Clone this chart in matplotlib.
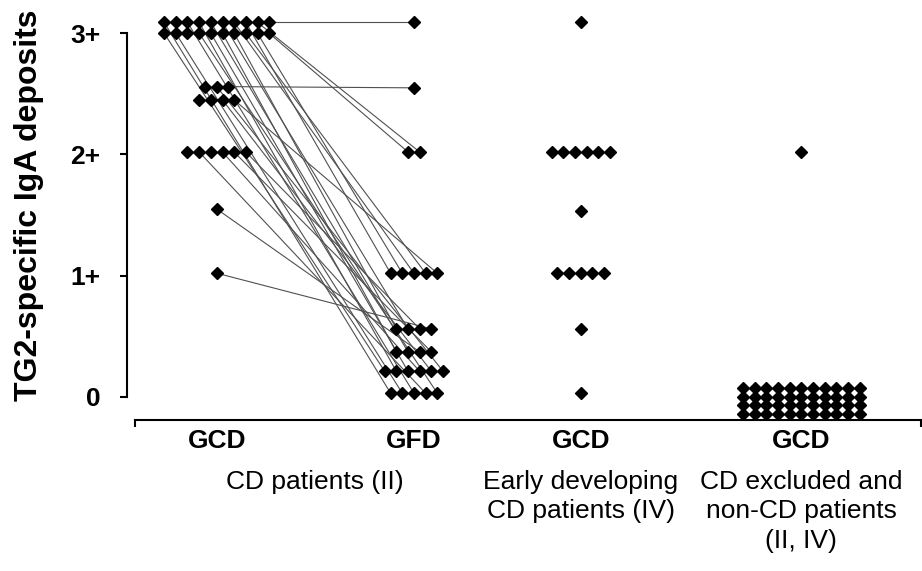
import matplotlib
matplotlib.use("Agg")
import matplotlib.pyplot as plt

plt.rcParams['font.family'] = ['Liberation Sans', 'DejaVu Sans']

# score levels (slightly offset rows as in the original) and how many patients sit on each
cd_gcd_levels = [3.09, 3.0, 2.56, 2.45, 2.02, 1.55, 1.02]
cd_gcd_counts = [10, 10, 3, 4, 6, 1, 1]
cd_gfd_levels = [3.09, 2.55, 2.02, 1.02, 0.56, 0.37, 0.21, 0.03]
cd_gfd_counts = [1, 1, 2, 5, 4, 4, 6, 5]
early_levels = [3.09, 2.02, 1.53, 1.02, 0.56, 0.03]
early_counts = [1, 6, 1, 5, 1, 1]
excluded_levels = [2.02, 0.075, 0.0, -0.07, -0.14]
excluded_counts = [1, 11, 11, 11, 11]

# paired biopsies: (index in GCD list, index in GFD list)
pairs = [(9, 0), (22, 1), (19, 2), (8, 3), (7, 4), (18, 5), (6, 6), (17, 7),
         (26, 8), (16, 9), (5, 10), (32, 11), (34, 12), (15, 13), (4, 14),
         (33, 15), (31, 16), (10, 17), (3, 18), (14, 19), (30, 20), (25, 21),
         (21, 22), (0, 23), (11, 24), (2, 25), (28, 26), (13, 27)]

group_labels = ['GCD', 'GFD', 'GCD', 'GCD']
group_pos = [7.0, 23.9, 38.2, 57.1]
sub_labels = ['CD patients (II)', 'Early developing\nCD patients (IV)',
              'CD excluded and\nnon-CD patients\n(II, IV)']
sub_pos = [15.45, 38.2, 57.1]
ytick_labels = ['0', '1+', '2+', '3+']


def spread(levels, counts, center):
    xs, ys = [], []
    for lev, n in zip(levels, counts):
        for k in range(n):
            xs.append(center + (k - (n - 1) / 2))
            ys.append(lev)
    return xs, ys


fig = plt.figure(figsize=(9.22, 5.71), dpi=100)
ax = fig.add_axes([0.1464, 0.2644, 0.8525, 0.7197])

gcd_x, gcd_y = spread(cd_gcd_levels, cd_gcd_counts, group_pos[0])
gfd_x, gfd_y = spread(cd_gfd_levels, cd_gfd_counts, group_pos[1])
ear_x, ear_y = spread(early_levels, early_counts, group_pos[2])
exc_x, exc_y = spread(excluded_levels, excluded_counts, group_pos[3])

for i, j in pairs:
    ax.plot([gcd_x[i], gfd_x[j]], [gcd_y[i], gfd_y[j]], color='#505050',
            lw=0.8, zorder=1)

for xs, ys in [(gcd_x, gcd_y), (gfd_x, gfd_y), (ear_x, ear_y), (exc_x, exc_y)]:
    ax.plot(xs, ys, ls='none', marker='D', ms=6.5, color='black',
            clip_on=False, zorder=3)

ax.set_xlim(0, 67.35)
ax.set_ylim(-0.192, 3.2)

for s in ['top', 'right']:
    ax.spines[s].set_visible(False)
ax.spines['left'].set_bounds(0, 3)
ax.spines['left'].set_position(('outward', 5.8))
ax.spines['left'].set_linewidth(1.5)
ax.spines['bottom'].set_linewidth(1.5)

ax.set_yticks([0, 1, 2, 3])
ax.set_yticklabels(ytick_labels, fontsize=19, fontweight='bold')
ax.tick_params(axis='y', direction='out', length=5, width=1.5, pad=14)
ax.set_xticks([0, 67.35])
ax.set_xticklabels([])
ax.tick_params(axis='x', direction='out', length=5, width=1.5)

tr = ax.get_xaxis_transform()
for x, lab in zip(group_pos, group_labels):
    ax.text(x, -0.052, lab, transform=tr, ha='center', va='center',
            fontsize=19, fontweight='bold')
for x, lab in zip(sub_pos, sub_labels):
    ax.text(x, -0.121, lab, transform=tr, ha='center', va='top',
            fontsize=19, linespacing=1.3)

fig.text(0.031, 0.64, 'TG2-specific IgA deposits', rotation=90,
         ha='center', va='center', fontsize=23, fontweight='bold')

fig.savefig('out.png', dpi=100)
